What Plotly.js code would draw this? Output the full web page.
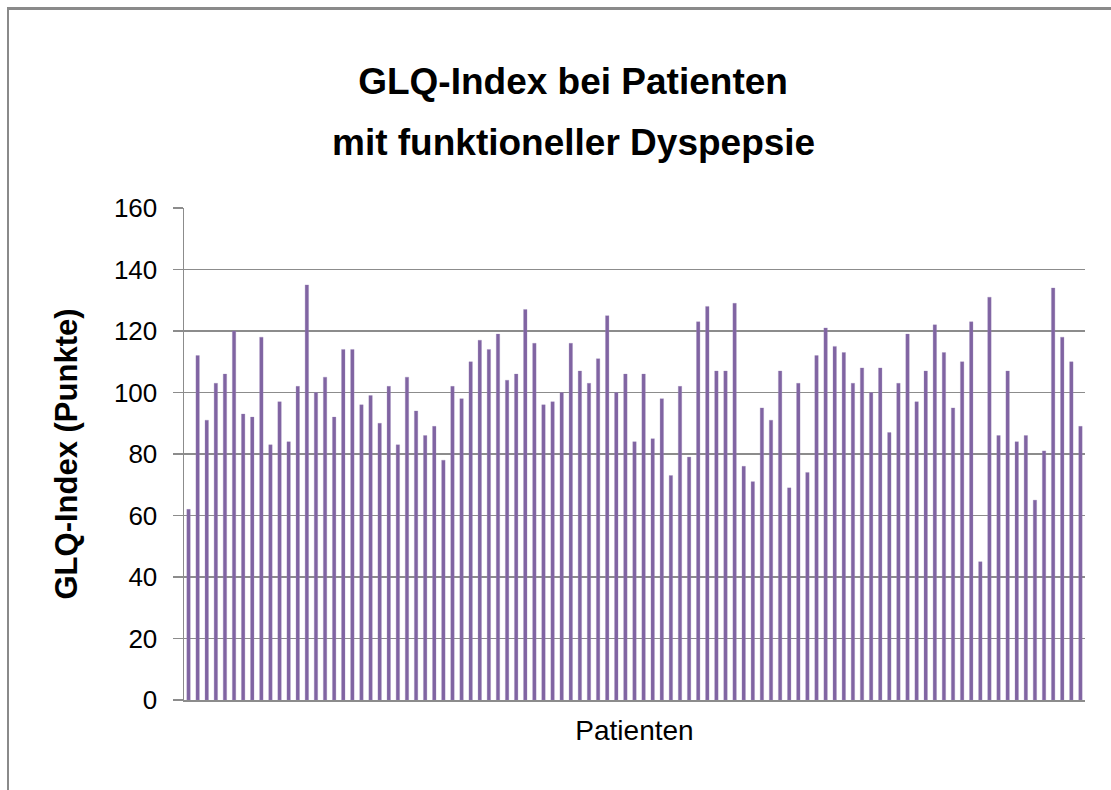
<!DOCTYPE html>
<html>
<head>
<meta charset="utf-8">
<script src="https://cdn.plot.ly/plotly-3.0.1.min.js"></script>
<style>
  html, body { margin: 0; padding: 0; background: #ffffff; }
  #chart { position: absolute; left: 0; top: 0; width: 1111px; height: 790px; }
  #frame { position: absolute; left: 7px; top: 7px; width: 1120px; height: 800px;
           border-top: 3px solid #8a8a8a; border-left: 2px solid #8a8a8a; pointer-events: none; }
</style>
</head>
<body>
<div id="chart"></div>
<div id="frame"></div>
<script>
// Patient numbers (categories)
const patients = Array.from({length: 99}, (_, i) => 'P' + (i + 1));

// GLQ-Index values
const glqIndex = [
  62, 112, 91, 103, 106, 120, 93, 92, 118, 83,
  97, 84, 102, 135, 100, 105, 92, 114, 114, 96,
  99, 90, 102, 83, 105, 94, 86, 89, 78, 102,
  98, 110, 117, 114, 119, 104, 106, 127, 116, 96,
  97, 100, 116, 107, 103, 111, 125, 100, 106, 84,
  106, 85, 98, 73, 102, 79, 123, 128, 107, 107,
  129, 76, 71, 95, 91, 107, 69, 103, 74, 112,
  121, 115, 113, 103, 108, 100, 108, 87, 103, 119,
  97, 107, 122, 113, 95, 110, 123, 45, 131, 86,
  107, 84, 86, 65, 81, 134, 118, 110, 89
];

const yTicks = [0, 20, 40, 60, 80, 100, 120, 140, 160];

const titleLine1 = 'GLQ-Index bei Patienten';
const titleLine2 = 'mit funktioneller Dyspepsie';
const yTitle = 'GLQ-Index (Punkte)';
const xTitle = 'Patienten';

const font = 'Liberation Sans, Arial, sans-serif';

const trace = {
  type: 'bar',
  x: patients,
  y: glqIndex,
  marker: { color: '#8064A2', line: { color: '#9a84b8', width: 0.3 } },
  hoverinfo: 'x+y'
};

const layout = {
  width: 1111,
  height: 790,
  margin: { l: 184, r: 26, t: 208, b: 90 },
  paper_bgcolor: '#ffffff',
  plot_bgcolor: '#ffffff',
  bargap: 0.62,
  showlegend: false,
  font: { family: font, color: '#000000' },
  title: {
    text: '<b>' + titleLine1 + '</b>',
    font: { family: font, size: 37, color: '#000000' },
    xref: 'container', x: 0.5158, xanchor: 'center',
    yref: 'container', y: 1 - 81 / 790, yanchor: 'middle'
  },
  annotations: [{
    text: '<b>' + titleLine2 + '</b>',
    font: { family: font, size: 37, color: '#000000' },
    xref: 'paper', x: (573 - 184) / 901, xanchor: 'center',
    yref: 'paper', y: (700 - 142) / 492, yanchor: 'middle',
    showarrow: false
  }],
  xaxis: {
    type: 'category',
    showticklabels: false,
    ticks: '',
    showgrid: false,
    showline: true,
    linecolor: '#8c8c8c',
    linewidth: 1.5,
    zeroline: false,
    title: { text: xTitle, font: { family: font, size: 28, color: '#000000' }, standoff: 20 }
  },
  yaxis: {
    range: [0, 160],
    tickvals: yTicks,
    ticktext: yTicks.map(String),
    ticks: 'outside',
    ticklen: 10,
    tickwidth: 1.5,
    tickcolor: '#8c8c8c',
    ticklabelstandoff: 10,
    tickfont: { family: font, size: 26, color: '#000000' },
    showgrid: true,
    gridcolor: '#8c8c8c',
    gridwidth: 1.5,
    showline: true,
    linecolor: '#8c8c8c',
    linewidth: 1.5,
    zeroline: false,
    title: { text: '<b>' + yTitle + '</b>', font: { family: font, size: 31, color: '#000000' }, standoff: 27 }
  }
};

Plotly.newPlot('chart', [trace], layout, { displayModeBar: false, staticPlot: true });
</script>
</body>
</html>
